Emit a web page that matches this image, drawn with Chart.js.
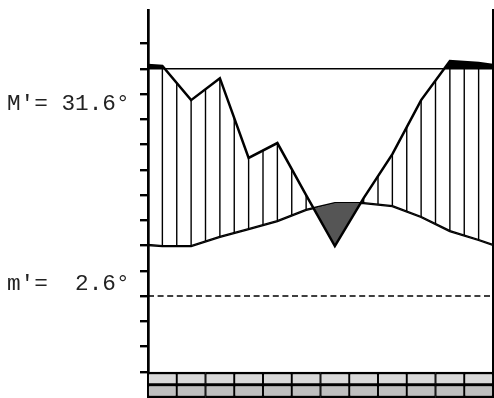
<!DOCTYPE html>
<html>
<head>
<meta charset="utf-8">
<script src="https://cdn.jsdelivr.net/npm/chart.js@4/dist/chart.umd.min.js"></script>
<style>
  html, body { margin: 0; padding: 0; background: #fff; overflow: hidden; }
  canvas { display: block; }
</style>
</head>
<body>
<canvas id="climate" width="494" height="398"></canvas>
<script>
// Climate diagram: monthly mean temperature and precipitation,
// precipitation plotted on the temperature scale.
const months = ['Jan', 'Feb', 'Mar', 'Apr', 'May', 'Jun', 'Jul', 'Aug', 'Sep', 'Oct', 'Nov', 'Dec'];

// Curve nodes (in months): start of year, the twelve mid-months, end of year
const nodeMonths = [0, 0.5, 1.5, 2.5, 3.5, 4.5, 5.5, 6.5, 7.5, 8.5, 9.5, 10.5, 11.5, 12];
const temperature   = [20.2, 19.8, 19.8, 23.4, 26.5, 29.7, 34.1, 36.8, 36.8, 35.6, 31.3, 25.7, 22.2, 20.2];
const precipitation = [91.5, 91.1, 77.6, 86.3, 54.7, 60.6, 40.0, 19.8, 38.8, 56.2, 77.6, 93.1, 92.3, 91.5];

// Tick values of the left scale
const yTicks = [-30, -20, -10, 0, 10, 20, 30, 40, 50, 60, 70, 80, 90, 100];

// Reference levels
const humidLimit = 90;   // above this, precipitation is filled solid
const zeroLine = 0;      // dashed zero line

// Extreme temperatures shown at the left
const maxWarmest = 31.6;
const minColdest = 2.6;

// Frost bands under the plot: one class per month (0 = no frost)
const frostUpper = [0, 0, 0, 0, 0, 0, 0, 0, 0, 0, 0, 0];
const frostLower = [0, 0, 0, 0, 0, 0, 0, 0, 0, 0, 0, 0];

const upperColours = ['#d9d9d9', '#555555', '#000000'];
const lowerColours = ['#bfbfbf', '#555555', '#000000'];

const pts = (xs, ys) => xs.map((x, i) => ({ x, y: ys[i] }));
const across = v => [{ x: 0, y: v }, { x: 12, y: v }];

const PRECIP = 0, TEMP = 2;

// Vertical hatching between the two curves, every half month
const hatching = {
  id: 'hatching',
  beforeDatasetsDraw(chart) {
    const { ctx, chartArea, scales: { x } } = chart;
    const p = chart.getDatasetMeta(PRECIP).data;
    const t = chart.getDatasetMeta(TEMP).data;
    ctx.save();
    ctx.beginPath();
    p.forEach((pt, i) => i ? ctx.lineTo(pt.x, pt.y) : ctx.moveTo(pt.x, pt.y));
    for (let i = t.length - 1; i >= 0; i--) ctx.lineTo(t[i].x, t[i].y);
    ctx.closePath();
    ctx.clip();
    ctx.strokeStyle = '#000';
    ctx.lineWidth = 1.4;
    for (let k = 1; k < 24; k++) {
      const px = x.getPixelForValue(k / 2);
      ctx.beginPath();
      ctx.moveTo(px, chartArea.top);
      ctx.lineTo(px, chartArea.bottom);
      ctx.stroke();
    }
    ctx.restore();
  }
};

// Extreme temperature labels at the left
const sideLabels = {
  id: 'sideLabels',
  afterDraw(chart) {
    const { ctx, scales: { y } } = chart;
    ctx.save();
    ctx.fillStyle = '#222';
    ctx.font = '22.7px "Liberation Mono", "Courier New", monospace';
    ctx.textBaseline = 'alphabetic';
    ctx.textAlign = 'left';
    const fmt = v => v.toFixed(1).padStart(5, ' ');
    ctx.fillText("M'=" + fmt(maxWarmest) + '°', 7, y.getPixelForValue(73.6));
    ctx.fillText("m'=" + fmt(minColdest) + '°', 7, y.getPixelForValue(2.4));
    ctx.restore();
  }
};

const bandBar = (classes, colours, lo, hi) => ({
  type: 'bar',
  data: classes.map((c, i) => ({ x: i + 0.5, y: [lo, hi] })),
  backgroundColor: classes.map(c => colours[c]),
  borderColor: '#000',
  borderWidth: { top: 2.5, bottom: 2.5, left: 1.3, right: 1.3 },
  borderSkipped: false,
  barPercentage: 1,
  categoryPercentage: 1,
  grouped: false
});

new Chart(document.getElementById('climate'), {
  type: 'line',
  data: {
    datasets: [
      { // precipitation curve; dark where it falls below temperature
        data: pts(nodeMonths, precipitation),
        borderColor: '#000', borderWidth: 2.5, pointRadius: 0, tension: 0,
        fill: { target: TEMP, above: 'rgba(0,0,0,0)', below: '#555555' }
      },
      { // solid fill above the humid limit
        data: pts(nodeMonths, precipitation),
        borderWidth: 0, borderColor: 'rgba(0,0,0,0)', pointRadius: 0, tension: 0,
        fill: { value: humidLimit, above: '#000', below: 'rgba(0,0,0,0)' }
      },
      { // temperature curve
        data: pts(nodeMonths, temperature),
        borderColor: '#000', borderWidth: 2.3, pointRadius: 0, tension: 0, fill: false
      },
      { // humid limit line
        data: across(humidLimit),
        borderColor: '#000', borderWidth: 1.5, pointRadius: 0, fill: false
      },
      { // zero line
        data: across(zeroLine),
        borderColor: '#000', borderWidth: 1.6, borderDash: [6, 3.6], pointRadius: 0, fill: false
      },
      bandBar(frostUpper, upperColours, -30.1, -35.45),
      bandBar(frostLower, lowerColours, -34.85, -40.4)
    ]
  },
  options: {
    responsive: false,
    animation: false,
    devicePixelRatio: 1,
    layout: { padding: { left: 140, right: 1, top: 10, bottom: 0 } },
    plugins: { legend: { display: false }, tooltip: { enabled: false } },
    scales: {
      x: { type: 'linear', min: 0, max: 12, offset: false, display: false },
      y: {
        type: 'linear', min: -40.4, max: 113.3,
        afterBuildTicks: s => { s.ticks = yTicks.map(v => ({ value: v })); },
        ticks: { display: false },
        grid: { drawOnChartArea: false, drawTicks: true, tickLength: 8, color: '#000', lineWidth: 2.4 },
        border: { display: true, color: '#000', width: 2.7 }
      },
      y2: {
        type: 'linear', position: 'right', min: -40.4, max: 113.3,
        ticks: { display: false },
        grid: { display: false, drawTicks: false, tickLength: 0 },
        border: { display: true, color: '#000', width: 2 }
      }
    }
  },
  plugins: [hatching, sideLabels]
});
</script>
</body>
</html>
